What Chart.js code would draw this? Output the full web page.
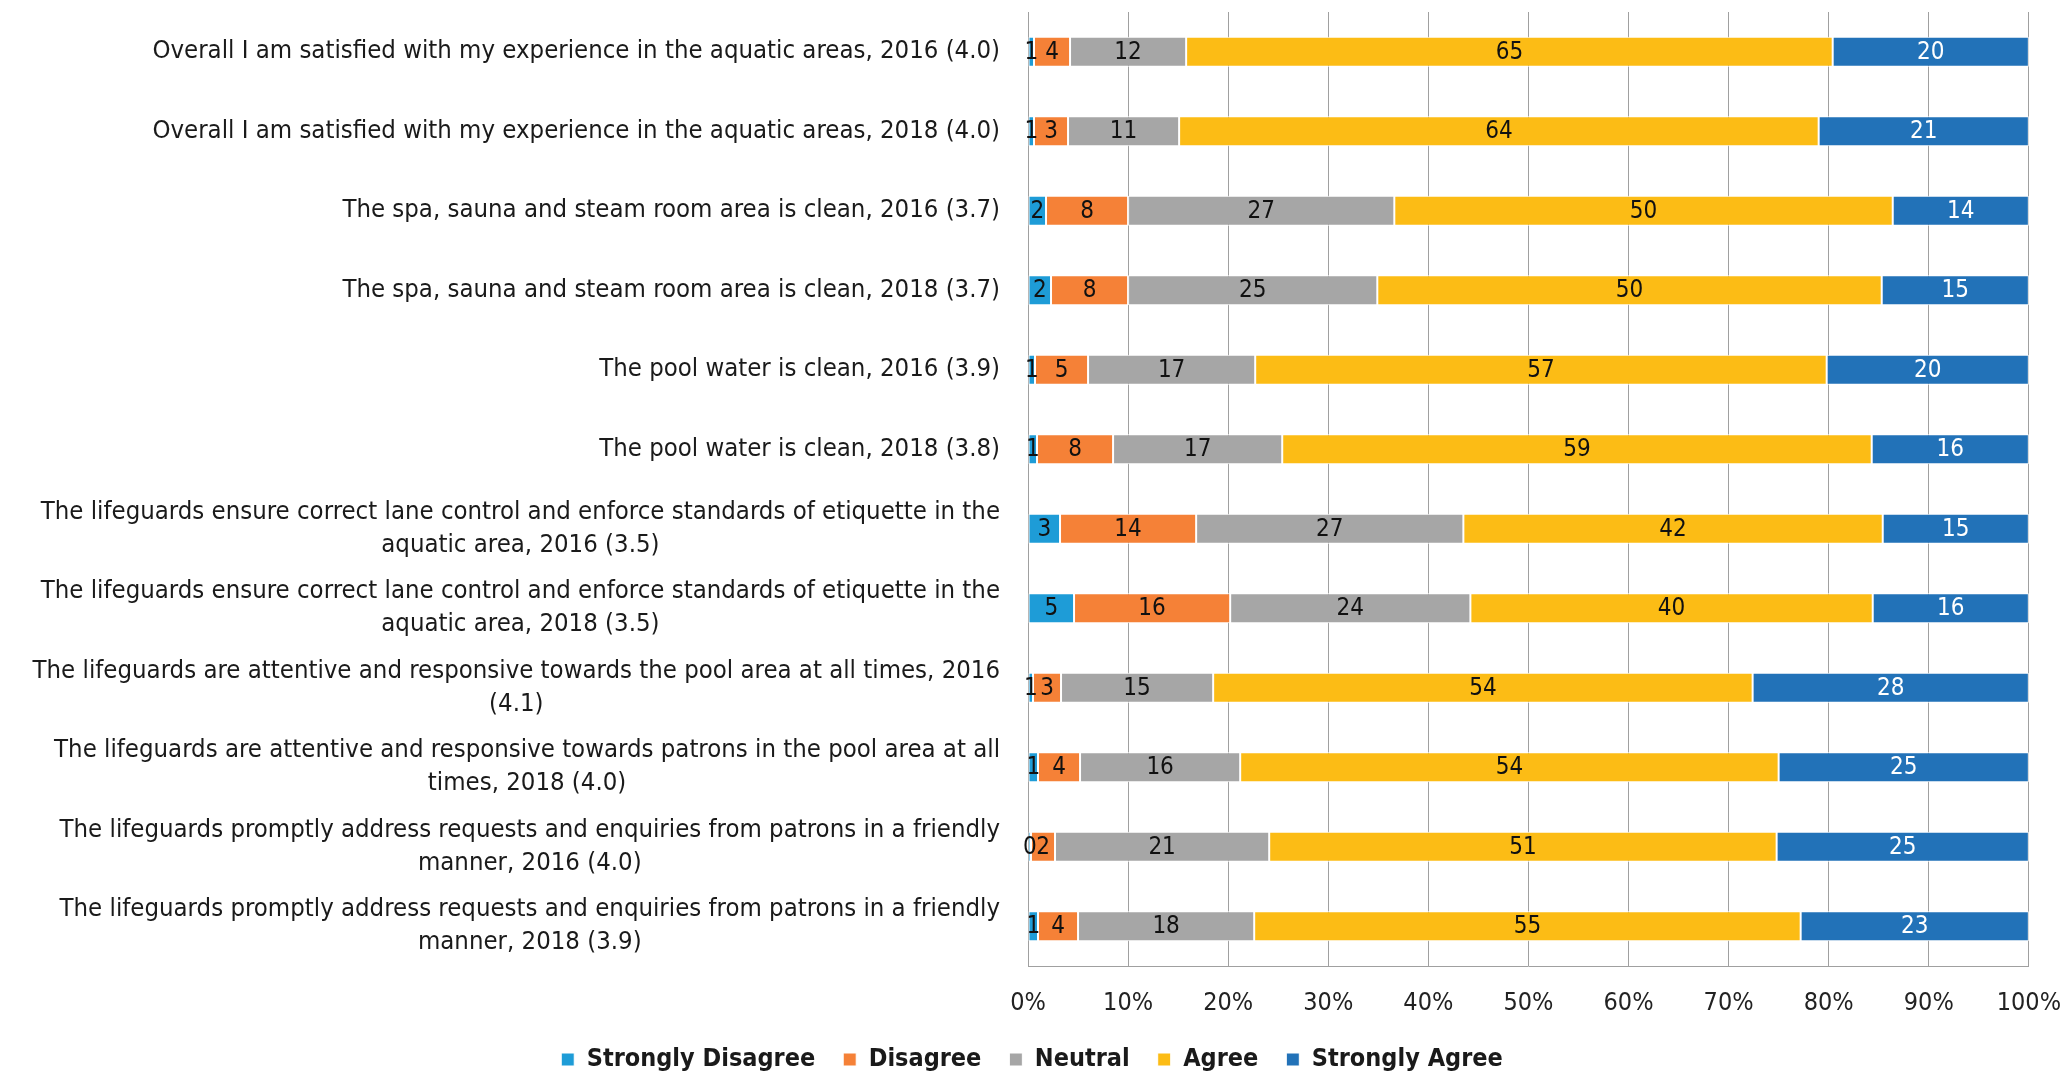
<!DOCTYPE html>
<html>
<head>
<meta charset="utf-8">
<script src="https://cdn.jsdelivr.net/npm/chart.js@4.4.1/dist/chart.umd.min.js"></script>
<style>
  html, body { margin: 0; padding: 0; background: #fff; }
  #wrap { width: 2064px; height: 1074px; }
</style>
</head>
<body>
<div id="wrap"><canvas id="c" width="2064" height="1074"></canvas></div>
<script>
const categories = [
  ["Overall I am satisfied with my experience in the aquatic areas, 2016 (4.0)"],
  ["Overall I am satisfied with my experience in the aquatic areas, 2018 (4.0)"],
  ["The spa, sauna and steam room area is clean, 2016 (3.7)"],
  ["The spa, sauna and steam room area is clean, 2018 (3.7)"],
  ["The pool water is clean, 2016 (3.9)"],
  ["The pool water is clean, 2018 (3.8)"],
  ["The lifeguards ensure correct lane control and enforce standards of etiquette in the", "aquatic area, 2016 (3.5)"],
  ["The lifeguards ensure correct lane control and enforce standards of etiquette in the", "aquatic area, 2018 (3.5)"],
  ["The lifeguards are attentive and responsive towards the pool area at all times, 2016", "(4.1)"],
  ["The lifeguards are attentive and responsive towards patrons in the pool area at all", "times, 2018 (4.0)"],
  ["The lifeguards promptly address requests and enquiries from patrons in a friendly", "manner, 2016 (4.0)"],
  ["The lifeguards promptly address requests and enquiries from patrons in a friendly", "manner, 2018 (3.9)"]
];
const stronglyDisagree = [0.6, 0.6, 1.8, 2.3, 0.7, 0.9, 3.2, 4.6, 0.5, 1.0, 0.3, 1.0];
const disagree         = [3.6, 3.4, 8.2, 7.7, 5.3, 7.6, 13.6, 15.6, 2.8, 4.2, 2.4, 4.0];
const neutral          = [11.6, 11.1, 26.6, 24.9, 16.7, 16.9, 26.7, 24.0, 15.2, 16.0, 21.4, 17.6];
const agree            = [64.6, 63.9, 49.8, 50.4, 57.1, 58.9, 41.9, 40.2, 53.9, 53.8, 50.7, 54.6];
const stronglyAgree    = [19.6, 21.0, 13.6, 14.7, 20.2, 15.7, 14.6, 15.6, 27.6, 25.0, 25.2, 22.8];
const seriesNames = ["Strongly Disagree", "Disagree", "Neutral", "Agree", "Strongly Agree"];
const xTicks = [0, 10, 20, 30, 40, 50, 60, 70, 80, 90, 100];

const FONT = "'Liberation Sans Narrow', 'DejaVu Sans Condensed', 'Roboto', sans-serif";
const colors = ["#1E9CD7", "#F58137", "#A6A6A6", "#FCBC15", "#2272B8"];
const labelColors = ["#111", "#111", "#111", "#111", "#fff"];
const seriesData = [stronglyDisagree, disagree, neutral, agree, stronglyAgree];

const categoryLabelPlugin = {
  id: 'catLabels',
  afterDraw(chart) {
    const ctx = chart.ctx;
    const ys = chart.scales.y;
    const right = chart.chartArea.left - 28;
    ctx.save();
    ctx.font = "25.5px " + FONT;
    ctx.fillStyle = "#1a1a1a";
    ctx.textAlign = "center";
    ctx.textBaseline = "middle";
    const lh = 33;
    categories.forEach((lines, i) => {
      const y = ys.getPixelForTick(i);
      const w = Math.max(...lines.map(l => ctx.measureText(l).width));
      const cx = right - w / 2;
      lines.forEach((l, j) => {
        const yy = y + (j - (lines.length - 1) / 2) * lh;
        ctx.fillText(l, cx, yy);
      });
    });
    ctx.restore();
  }
};

const dataLabelPlugin = {
  id: 'dataLabels',
  afterDatasetsDraw(chart) {
    const ctx = chart.ctx;
    ctx.save();
    ctx.font = "24px " + FONT;
    ctx.textAlign = "center";
    ctx.textBaseline = "middle";
    chart.data.datasets.forEach((ds, di) => {
      const meta = chart.getDatasetMeta(di);
      ctx.fillStyle = labelColors[di];
      meta.data.forEach((bar, i) => {
        const v = ds.data[i];
        const cx = (bar.x + bar.base) / 2;
        ctx.fillText(String(Math.round(v)), cx, bar.y + 1);
      });
    });
    ctx.restore();
  }
};

new Chart(document.getElementById('c'), {
  type: 'bar',
  data: {
    labels: categories.map(c => c.join(' ')),
    datasets: seriesNames.map((n, i) => ({
      label: n,
      data: seriesData[i],
      backgroundColor: colors[i],
      borderColor: '#ffffff',
      borderWidth: 1,
      borderSkipped: false,
      barPercentage: 0.76,
      categoryPercentage: 0.5
    }))
  },
  options: {
    indexAxis: 'y',
    responsive: false,
    animation: false,
    devicePixelRatio: 1,
    layout: { padding: { top: 12, right: 0, left: 0, bottom: -8 } },
    scales: {
      x: {
        stacked: true,
        min: 0, max: 100,
        afterBuildTicks(scale) { scale.ticks = xTicks.map(v => ({ value: v })); },
        afterFit(scale) { scale.height = 53; },
        ticks: {
          callback: v => v + '%',
          font: { size: 25, family: FONT, lineHeight: 1.0 },
          color: '#222',
          padding: 3,
          maxRotation: 0
        },
        grid: { color: '#A0A0A0', lineWidth: 1, drawTicks: true, tickLength: 22, tickColor: 'rgba(0,0,0,0)' },
        border: { display: true, color: '#A0A0A0' }
      },
      y: {
        stacked: true,
        ticks: { display: false },
        grid: { display: false },
        border: { display: false },
        afterFit(scale) { scale.width = 1028; }
      }
    },
    plugins: {
      legend: {
        position: 'bottom',
        labels: {
          font: { size: 25, family: FONT, weight: 'bold' },
          color: '#1a1a1a',
          boxWidth: 13,
          boxHeight: 13,
          padding: 28,
          useBorderRadius: false
        }
      },
      tooltip: { enabled: false }
    }
  },
  plugins: [categoryLabelPlugin, dataLabelPlugin]
});
</script>
</body>
</html>
